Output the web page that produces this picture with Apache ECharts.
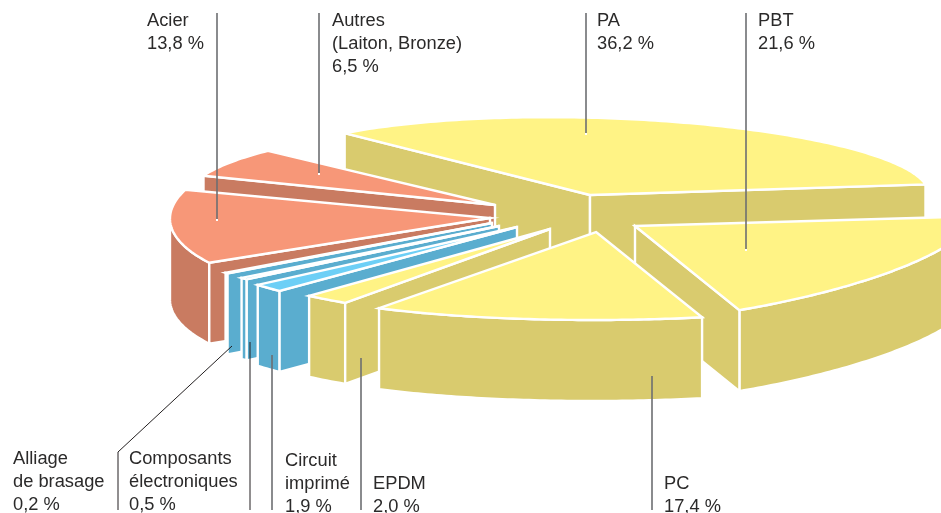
<!DOCTYPE html>
<html>
<head>
<meta charset="utf-8">
<style>
  html, body { margin: 0; padding: 0; background: #fff; }
  #chart { width: 941px; height: 513px; }
</style>
<script src="https://cdn.jsdelivr.net/npm/echarts@6/dist/echarts.min.js"></script>
</head>
<body>
<div id="chart"></div>
<script>
// data, clockwise from the back left edge of the pie
const categories = ["PA", "PBT", "PC", "EPDM", "Circuit\nimprimé", "Composants\nélectroniques", "Alliage\nde brasage", "Acier", "Autres\n(Laiton, Bronze)"];
const shares = [36.2, 21.6, 17.4, 2.0, 1.9, 0.5, 0.2, 13.8, 6.5];

const groupColors = ["yellow", "yellow", "yellow", "yellow", "blue", "blue", "blue", "orange", "orange"];
const palette = {
  yellow: { top: "#fff385", wall: "#d9cb6e" },
  blue: { top: "#6dcff6", wall: "#5aadcf" },
  orange: { top: "#f79778", wall: "#c97b61" }
};

// back to front
const drawOrder = [0, 8, 7, 6, 5, 4, 3, 1, 2];

// exploded tip of each piece and how its rim is projected (hand fitted to the artwork)
const tips = [[590, 195], [635, 226], [596, 232], [550, 229], [517, 227], [499, 226], [492, 223], [490, 218], [495, 205]];
const rims = [
  { ex: 3.6, ey: -10.5, a: 335, b: 0, c: 9, d: 66.7 },
  { ex: 65, ey: 22.4, a: 270, b: -57, c: -22.3, d: 73.9 },
  { ex: -3, ey: 43, a: 317, b: 0, c: 0, d: 45 },
  { ex: 74.6, ey: 17, a: 414, b: 0, c: 0, d: 77 },
  { ex: -5, ey: 22.5, a: 305, b: 0, c: 0, d: 64 },
  { ex: 2, ey: 23.5, a: 305, b: 0, c: 0, d: 54 },
  { ex: -5, ey: 22, a: 305, b: 0, c: 0, d: 54 },
  { ex: -38, ey: -4, a: 282, b: -2, c: -4, d: 88 },
  { ex: 7, ey: -6.6, a: 315, b: 0, c: 0, d: 71 }
];
const depth = 81;
const startAngle = -138;

const labelAnchors = [[597, 10], [758, 10], [664, 473], [373, 473], [285, 450], [129, 448], [13, 448], [147, 10], [332, 10]];
const leaders = [
  { pts: [[586, 13], [586, 133]], color: "#6d6e71", width: 1.6, dot: true },
  { pts: [[746, 13], [746, 249]], color: "#6d6e71", width: 1.6, dot: true },
  { pts: [[652, 376], [652, 510]], color: "#6d6e71", width: 1.6 },
  { pts: [[361, 358], [361, 510]], color: "#6d6e71", width: 1.6 },
  { pts: [[272, 355], [272, 510]], color: "#6d6e71", width: 1.6 },
  { pts: [[250, 342], [250, 510]], color: "#231f20", width: 1 },
  { pts: [[232, 346], [118, 452], [118, 510]], color: "#231f20", width: 1 },
  { pts: [[217, 13], [217, 219]], color: "#6d6e71", width: 1.6, dot: true },
  { pts: [[319, 13], [319, 173]], color: "#6d6e71", width: 1.6, dot: true }
];

const total = shares.reduce((a, b) => a + b, 0);
const spans = [];
let cursor = startAngle;
shares.forEach(v => {
  const sweep = (v / total) * 360;
  spans.push([cursor, cursor + sweep]);
  cursor += sweep;
});

const rimPoint = (i, deg) => {
  const t = (deg * Math.PI) / 180;
  const r = rims[i];
  const x = Math.cos(t);
  const y = Math.sin(t);
  return [tips[i][0] + r.ex + r.a * x + r.b * y, tips[i][1] + r.ey + r.c * x + r.d * y];
};

const wallOf = pts => pts.concat(pts.slice().reverse().map(p => [p[0], p[1] + depth]));

const renderPiece = (params) => {
  const i = params.dataIndex;
  const [from, to] = spans[i];
  const colors = palette[groupColors[i]];
  const steps = Math.max(2, Math.ceil(to - from));
  const rim = [];
  for (let s = 0; s <= steps; s++) rim.push(rimPoint(i, from + ((to - from) * s) / steps));

  const z = drawOrder.indexOf(i) * 10;
  const face = (pts, fill, k) => ({
    type: "polygon",
    z2: z + k,
    shape: { points: pts },
    style: { fill: fill, stroke: "#fff", lineWidth: 2.4, lineJoin: "miter" },
    silent: true
  });

  // a wall can be seen when its top edge runs leftwards on screen
  const children = [];
  const tip = tips[i];
  let run = [];
  const flush = () => {
    if (run.length > 1) children.push(face(wallOf(run), colors.wall, 1));
    run = [];
  };
  for (let s = 0; s < rim.length - 1; s++) {
    if (rim[s + 1][0] < rim[s][0]) {
      if (!run.length) run.push(rim[s]);
      run.push(rim[s + 1]);
    } else flush();
  }
  flush();
  if (rim[0][0] < tip[0]) children.push(face(wallOf([tip, rim[0]]), colors.wall, 2));
  if (tip[0] < rim[rim.length - 1][0]) children.push(face(wallOf([rim[rim.length - 1], tip]), colors.wall, 2));
  children.push(face([tip].concat(rim), colors.top, 3));
  return { type: "group", children: children };
};

const labelText = i => categories[i] + "\n" + shares[i].toFixed(1).replace(".", ",") + " %";

const graphics = [];
leaders.forEach(l => {
  graphics.push({
    type: "polyline",
    z: 50,
    silent: true,
    shape: { points: l.pts },
    style: { fill: null, stroke: l.color, lineWidth: l.width }
  });
  if (l.dot) {
    const end = l.pts[l.pts.length - 1];
    graphics.push({
      type: "rect",
      z: 51,
      silent: true,
      shape: { x: end[0] - 1, y: end[1], width: 2, height: 2 },
      style: { fill: "#fff" }
    });
  }
});
categories.forEach((c, i) => {
  graphics.push({
    type: "text",
    z: 60,
    silent: true,
    x: labelAnchors[i][0],
    y: labelAnchors[i][1],
    style: {
      text: labelText(i),
      font: '18.3px "Liberation Sans", Arial, sans-serif',
      fill: "#2b2a2a",
      lineHeight: 22.7
    }
  });
});

const chart = echarts.init(document.getElementById("chart"), null, { renderer: "canvas" });
chart.setOption({
  animation: false,
  backgroundColor: "#fff",
  graphic: graphics,
  series: [
    {
      type: "custom",
      coordinateSystem: "none",
      silent: true,
      renderItem: renderPiece,
      data: shares
    }
  ]
});
</script>
</body>
</html>
